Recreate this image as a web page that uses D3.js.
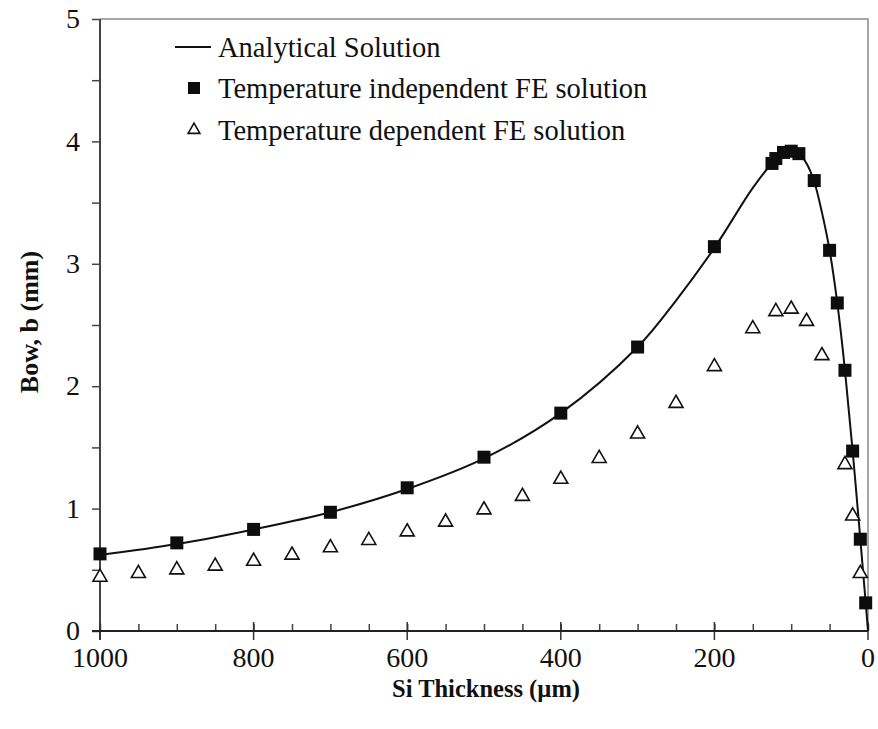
<!DOCTYPE html>
<html>
<head>
<meta charset="utf-8">
<script src="https://cdn.jsdelivr.net/npm/d3@7"></script>
<style>
  body { margin: 0; background: #fff; }
</style>
</head>
<body>
<svg id="chart" width="878" height="729"></svg>
<script>
// Analytical solution (curve)
var analyticT = [1000, 900, 800, 700, 600, 500, 400, 300, 250, 200, 150, 125, 110, 100, 90, 80, 70, 60, 50, 40, 30, 20, 10, 5, 0];
var analyticB = [0.62, 0.71, 0.83, 0.97, 1.16, 1.41, 1.78, 2.32, 2.70, 3.13, 3.62, 3.82, 3.90, 3.92, 3.90, 3.82, 3.67, 3.42, 3.11, 2.68, 2.13, 1.47, 0.75, 0.38, 0];

// Temperature independent FE solution (squares)
var indepT = [1000, 900, 800, 700, 600, 500, 400, 300, 200, 125, 120, 110, 100, 90, 70, 50, 40, 30, 20, 10, 3];
var indepB = [0.63, 0.72, 0.83, 0.97, 1.17, 1.42, 1.78, 2.32, 3.14, 3.82, 3.86, 3.91, 3.92, 3.90, 3.68, 3.11, 2.68, 2.13, 1.47, 0.75, 0.23];

// Temperature dependent FE solution (triangles)
var depT = [1000, 950, 900, 850, 800, 750, 700, 650, 600, 550, 500, 450, 400, 350, 300, 250, 200, 150, 120, 100, 80, 60, 30, 20, 10];
var depB = [0.44, 0.47, 0.50, 0.53, 0.57, 0.62, 0.68, 0.74, 0.81, 0.89, 0.99, 1.10, 1.24, 1.41, 1.61, 1.86, 2.16, 2.47, 2.61, 2.63, 2.53, 2.25, 1.36, 0.94, 0.47];

var xTicks = [1000, 800, 600, 400, 200, 0];
var yTicks = [0, 1, 2, 3, 4, 5];

var legendLabels = ['Analytical Solution', 'Temperature independent FE solution', 'Temperature dependent FE solution'];

(function() {
  var serif = "'Liberation Serif', 'Times New Roman', 'DejaVu Serif', serif";
  var svg = d3.select('#chart').attr('font-family', serif);

  // Plot area
  var left = 100, right = 868, plotTop = 19, bottom = 631;

  var x = d3.scaleLinear().domain([1000, 0]).range([left, right]);
  var y = d3.scaleLinear().domain([0, 5]).range([bottom, plotTop]);

  // Frame (top and right)
  svg.append('path')
    .attr('d', 'M' + left + ',' + plotTop + 'H' + right + 'V' + bottom)
    .attr('fill', 'none')
    .attr('stroke', '#8a8a8a')
    .attr('stroke-width', 1.5);

  // Y axis with minor ticks
  var yAxis = svg.append('g').attr('transform', 'translate(' + left + ',0)');
  yAxis.append('g')
    .call(d3.axisLeft(y).tickValues(d3.range(0, 5.01, 0.5)).tickSize(8).tickFormat(''))
    .call(function(g) { g.select('.domain').remove(); })
    .selectAll('line').attr('stroke', '#444').attr('stroke-width', 1.5);
  yAxis.selectAll('.ylab')
    .data(yTicks)
    .enter().append('text')
    .attr('class', 'ylab')
    .attr('x', -20)
    .attr('y', function(d) { return y(d); })
    .attr('dy', '0.33em')
    .attr('text-anchor', 'end')
    .attr('font-family', serif)
    .attr('font-size', 28)
    .attr('fill', '#111')
    .text(function(d) { return d; });
  yAxis.append('line')
    .attr('y1', plotTop).attr('y2', bottom + 9)
    .attr('stroke', '#444').attr('stroke-width', 2);

  // X axis: minor ticks inside, major ticks across
  var xAxis = svg.append('g');
  xAxis.append('g')
    .attr('transform', 'translate(0,' + bottom + ')')
    .call(d3.axisTop(x).tickValues(d3.range(0, 1001, 50)).tickSize(7).tickFormat(''))
    .call(function(g) { g.select('.domain').remove(); })
    .selectAll('line').attr('stroke', '#444').attr('stroke-width', 1.5);
  xAxis.selectAll('.major')
    .data(xTicks)
    .enter().append('line')
    .attr('class', 'major')
    .attr('x1', function(d) { return x(d); })
    .attr('x2', function(d) { return x(d); })
    .attr('y1', bottom - 9)
    .attr('y2', bottom + 9)
    .attr('stroke', '#333').attr('stroke-width', 1.5);
  xAxis.append('line')
    .attr('x1', left - 8).attr('x2', right)
    .attr('y1', bottom).attr('y2', bottom)
    .attr('stroke', '#222').attr('stroke-width', 2);
  xAxis.selectAll('.xlab')
    .data(xTicks)
    .enter().append('text')
    .attr('class', 'xlab')
    .attr('x', function(d) { return x(d); })
    .attr('y', 667)
    .attr('text-anchor', 'middle')
    .attr('font-family', serif)
    .attr('font-size', 28)
    .attr('fill', '#111')
    .text(function(d) { return d; });

  // Axis titles
  svg.append('text')
    .attr('x', 486).attr('y', 697)
    .attr('text-anchor', 'middle')
    .attr('font-family', serif)
    .attr('font-size', 24.5)
    .attr('font-weight', 'bold')
    .attr('fill', '#111')
    .text('Si Thickness (\u00b5m)');
  svg.append('text')
    .attr('transform', 'translate(38,322) rotate(-90)')
    .attr('text-anchor', 'middle')
    .attr('font-family', serif)
    .attr('font-size', 26)
    .attr('font-weight', 'bold')
    .attr('fill', '#111')
    .text('Bow, b (mm)');

  // Analytical curve
  var line = d3.line()
    .x(function(d) { return x(d[0]); })
    .y(function(d) { return y(d[1]); })
    .curve(d3.curveCatmullRom.alpha(0.5));
  svg.append('path')
    .datum(d3.zip(analyticT, analyticB))
    .attr('d', line)
    .attr('fill', 'none')
    .attr('stroke', '#111')
    .attr('stroke-width', 2);

  // Squares
  var sq = 13;
  svg.selectAll('.sq')
    .data(d3.zip(indepT, indepB))
    .enter().append('rect')
    .attr('class', 'sq')
    .attr('x', function(d) { return x(d[0]) - sq / 2; })
    .attr('y', function(d) { return y(d[1]) - sq / 2; })
    .attr('width', sq).attr('height', sq)
    .attr('fill', '#0d0d0d');

  // Triangles
  var tri = d3.symbol().type(d3.symbolTriangle).size(85);
  svg.selectAll('.tri')
    .data(d3.zip(depT, depB))
    .enter().append('path')
    .attr('class', 'tri')
    .attr('transform', function(d) { return 'translate(' + x(d[0]) + ',' + y(d[1]) + ')'; })
    .attr('d', tri)
    .attr('fill', '#fff')
    .attr('stroke', '#111')
    .attr('stroke-width', 1.6);

  // Legend
  var legend = svg.append('g');
  var ly = [47, 88, 130];
  legend.append('line')
    .attr('x1', 175).attr('x2', 211)
    .attr('y1', ly[0]).attr('y2', ly[0])
    .attr('stroke', '#111').attr('stroke-width', 2);
  legend.append('rect')
    .attr('x', 188).attr('y', ly[1] - 6)
    .attr('width', 12).attr('height', 12)
    .attr('fill', '#0d0d0d');
  legend.append('path')
    .attr('transform', 'translate(194,' + ly[2] + ')')
    .attr('d', d3.symbol().type(d3.symbolTriangle).size(60))
    .attr('fill', '#fff').attr('stroke', '#111').attr('stroke-width', 1.6);
  legend.selectAll('.lt')
    .data(legendLabels)
    .enter().append('text')
    .attr('class', 'lt')
    .attr('x', 218)
    .attr('y', function(d, i) { return ly[i]; })
    .attr('dy', '0.35em')
    .attr('font-family', serif)
    .attr('font-size', 28.5)
    .attr('fill', '#111')
    .text(function(d) { return d; });
})();
</script>
</body>
</html>
